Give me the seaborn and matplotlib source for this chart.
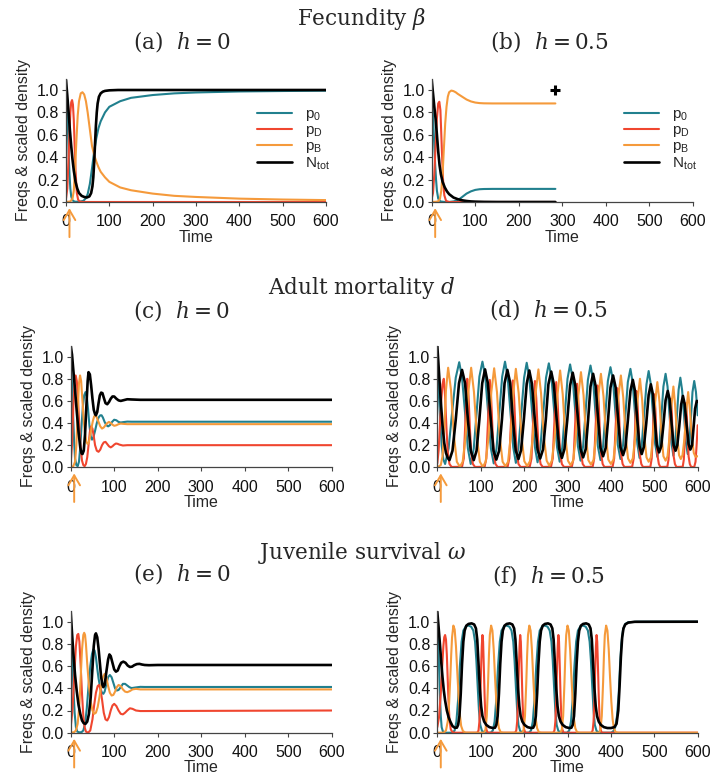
import matplotlib
matplotlib.use("Agg")
import matplotlib.pyplot as plt
import seaborn as sns

sns.set_theme(style="ticks")
plt.rcParams["font.family"] = ["Liberation Sans", "DejaVu Sans"]
plt.rcParams["mathtext.fontset"] = "dejavuserif"

TEAL = "#21808e"
RED = "#f0462f"
ORANGE = "#f59a3b"
BLACK = "#000000"
AXIS = "#444444"

# ---------------- (a) fecundity, h = 0 ----------------
a_p0_t = [0, 2, 4, 6, 8, 10, 12, 15, 20, 30, 40, 45, 50, 55, 60, 65, 70, 75, 80, 90, 100, 125, 150, 200, 250, 300, 400, 500, 600]
a_p0_v = [0.97, 0.88, 0.7, 0.45, 0.25, 0.12, 0.05, 0.015, 0.003, 0.002, 0.01, 0.03, 0.07, 0.16, 0.3, 0.45, 0.57, 0.66, 0.72, 0.8, 0.85, 0.9, 0.93, 0.955, 0.97, 0.978, 0.987, 0.991, 0.994]
a_pd_t = [0, 3, 6, 8, 10, 12, 14, 16, 18, 20, 22, 25, 28, 32, 40, 600]
a_pd_v = [0.03, 0.12, 0.4, 0.62, 0.8, 0.89, 0.91, 0.87, 0.73, 0.5, 0.28, 0.08, 0.02, 0.003, 0.0, 0.0]
a_pb_t = [0, 10, 15, 18, 21, 24, 27, 30, 34, 38, 42, 46, 50, 55, 60, 65, 70, 75, 80, 90, 100, 125, 150, 200, 250, 300, 400, 500, 600]
a_pb_v = [0.0, 0.005, 0.03, 0.1, 0.3, 0.55, 0.77, 0.9, 0.97, 0.98, 0.96, 0.9, 0.8, 0.65, 0.5, 0.42, 0.36, 0.31, 0.27, 0.22, 0.18, 0.13, 0.105, 0.075, 0.055, 0.045, 0.03, 0.022, 0.017]
a_n_t = [0, 3, 6, 9, 12, 15, 18, 22, 26, 30, 36, 42, 48, 54, 58, 61, 63, 65, 67, 69, 71, 73, 76, 80, 85, 90, 100, 120, 600]
a_n_v = [1.09, 0.95, 0.8, 0.64, 0.5, 0.38, 0.28, 0.18, 0.12, 0.08, 0.055, 0.045, 0.04, 0.05, 0.08, 0.14, 0.22, 0.35, 0.52, 0.68, 0.8, 0.88, 0.94, 0.97, 0.985, 0.992, 0.997, 1.0, 1.0]

# ---------------- (b) fecundity, h = 0.5 (extinct at t = 284) ----------------
b_p0_t = [0, 2, 4, 6, 8, 10, 12, 15, 20, 30, 40, 50, 55, 60, 65, 70, 75, 80, 90, 100, 110, 120, 140, 284]
b_p0_v = [0.97, 0.85, 0.68, 0.5, 0.33, 0.2, 0.1, 0.03, 0.005, 0.0, 0.0, 0.005, 0.01, 0.02, 0.03, 0.045, 0.06, 0.075, 0.095, 0.108, 0.114, 0.116, 0.117, 0.117]
b_pd_t = [0, 3, 6, 9, 12, 15, 17.5, 20, 23, 26, 29, 33, 40, 284]
b_pd_v = [0.03, 0.08, 0.25, 0.5, 0.75, 0.88, 0.895, 0.82, 0.5, 0.2, 0.06, 0.01, 0.0, 0.0]
b_pb_t = [0, 12, 16, 19, 22, 25, 28, 31, 34, 37, 40, 45, 50, 55, 60, 70, 80, 90, 100, 110, 120, 140, 284]
b_pb_v = [0.0, 0.003, 0.01, 0.03, 0.1, 0.25, 0.48, 0.7, 0.85, 0.94, 0.98, 0.995, 0.99, 0.98, 0.965, 0.94, 0.915, 0.898, 0.888, 0.883, 0.881, 0.88, 0.88]
b_n_t = [0, 3, 6, 9, 12, 15, 18, 21, 25, 30, 35, 40, 50, 60, 70, 80, 90, 100, 120, 150, 284]
b_n_v = [1.09, 0.97, 0.85, 0.74, 0.6, 0.45, 0.33, 0.25, 0.18, 0.13, 0.095, 0.07, 0.04, 0.025, 0.015, 0.009, 0.005, 0.003, 0.001, 0.0, 0.0]
b_end_t = [284]
b_end_v = [1.0]

# ---------------- (c) adult mortality, h = 0 ----------------
c_p0_t = [0, 3, 6, 8, 10, 13, 16, 19, 22, 25, 28, 31, 34, 37, 40, 43, 46, 49, 52, 56, 60, 64, 68, 71, 74, 78, 82, 86, 90, 95, 100, 105, 110, 115, 120, 130, 140, 160, 600]
c_p0_v = [0.97, 0.75, 0.42, 0.22, 0.08, 0.02, 0.01, 0.05, 0.18, 0.38, 0.55, 0.65, 0.68, 0.64, 0.52, 0.38, 0.28, 0.25, 0.27, 0.33, 0.4, 0.45, 0.47, 0.47, 0.45, 0.41, 0.38, 0.37, 0.38, 0.41, 0.43, 0.425, 0.41, 0.405, 0.408, 0.413, 0.412, 0.412, 0.412]
c_pd_t = [0, 3, 6, 9, 11.5, 14, 17, 20, 23, 26, 29, 32, 35, 38, 41, 44, 47, 50, 53, 56, 60, 64, 68, 72, 76, 80, 84, 88, 92, 96, 100, 104, 108, 112, 120, 130, 140, 600]
c_pd_v = [0.04, 0.2, 0.55, 0.78, 0.83, 0.78, 0.6, 0.36, 0.17, 0.06, 0.02, 0.01, 0.03, 0.09, 0.2, 0.32, 0.37, 0.35, 0.28, 0.2, 0.15, 0.14, 0.16, 0.2, 0.225, 0.23, 0.21, 0.19, 0.18, 0.19, 0.205, 0.215, 0.212, 0.205, 0.197, 0.2, 0.2, 0.2]
c_pb_t = [0, 6, 10, 13, 16, 19, 21.5, 24, 27, 30, 33, 36, 39, 42, 45, 48, 51, 54, 57, 60, 64, 68, 72, 76, 80, 84, 88, 92, 96, 100, 105, 110, 115, 120, 130, 140, 600]
c_pb_v = [0.0, 0.01, 0.05, 0.2, 0.5, 0.76, 0.83, 0.78, 0.6, 0.42, 0.3, 0.23, 0.21, 0.23, 0.29, 0.36, 0.42, 0.46, 0.47, 0.45, 0.41, 0.37, 0.35, 0.36, 0.38, 0.4, 0.41, 0.4, 0.385, 0.375, 0.38, 0.39, 0.395, 0.393, 0.39, 0.39, 0.39]
c_n_t = [0, 3, 6, 10, 14, 18, 22, 25, 27, 30, 33, 36, 39, 41, 44, 47, 50, 53, 56, 58, 61, 64, 67, 70, 73, 76, 80, 84, 88, 92, 96, 100, 105, 110, 115, 120, 130, 140, 160, 600]
c_n_v = [1.1, 1.02, 0.88, 0.7, 0.5, 0.32, 0.18, 0.125, 0.12, 0.15, 0.3, 0.55, 0.78, 0.86, 0.84, 0.74, 0.62, 0.52, 0.48, 0.47, 0.5, 0.58, 0.65, 0.675, 0.67, 0.63, 0.58, 0.57, 0.59, 0.62, 0.64, 0.64, 0.62, 0.605, 0.6, 0.605, 0.615, 0.613, 0.61, 0.61]

# ---------------- (d) adult mortality, h = 0.5 (sustained cycles) ----------------
d_p0_t = [0, 5, 10, 14, 18, 26, 34, 42.5, 50.5, 57, 64, 70.5, 77, 84, 90.5, 97, 104, 110.5, 117, 123.5, 130,
          136.5, 143, 149.5, 156, 162, 168.5, 175, 181, 187, 193.5, 200, 206, 212, 218.5, 225, 231,
          237.5, 244, 250.5, 257, 263, 269.5, 276, 282, 288, 294, 300, 306, 312, 318, 324, 330,
          336, 341.5, 347, 353, 359, 364.5, 370, 376, 382, 387.5, 393, 399, 405, 410.5, 416, 422,
          428, 433.5, 439, 445, 450, 455.5, 461, 466, 471, 476.5, 482, 487, 492, 497, 502, 507,
          512, 516.5, 521, 526, 530.5, 535, 539.5, 544, 548, 552, 556, 560, 564, 568.5, 573, 577,
          581, 584.5, 588, 592, 596, 600]
d_p0_v = [0.96, 0.55, 0.2, 0.07, 0.03, 0.17, 0.49, 0.81, 0.95, 0.81, 0.49, 0.17, 0.03, 0.17, 0.49, 0.82, 0.955, 0.82, 0.5, 0.17, 0.035,
          0.17, 0.5, 0.82, 0.955, 0.82, 0.5, 0.18, 0.04, 0.18, 0.49, 0.81, 0.945, 0.81, 0.5, 0.18, 0.045,
          0.18, 0.49, 0.81, 0.94, 0.81, 0.5, 0.18, 0.05, 0.18, 0.49, 0.8, 0.93, 0.8, 0.5, 0.19, 0.06,
          0.19, 0.49, 0.79, 0.92, 0.79, 0.49, 0.19, 0.065, 0.19, 0.49, 0.78, 0.905, 0.78, 0.49, 0.2, 0.075,
          0.2, 0.48, 0.77, 0.89, 0.77, 0.49, 0.21, 0.085, 0.2, 0.48, 0.75, 0.87, 0.75, 0.48, 0.21, 0.095,
          0.21, 0.47, 0.73, 0.845, 0.73, 0.48, 0.22, 0.105, 0.21, 0.46, 0.7, 0.81, 0.7, 0.47, 0.22, 0.12,
          0.22, 0.45, 0.68, 0.78, 0.68, 0.47]
d_pd_t = [0, 3, 6, 9, 12, 15, 18, 21, 24, 28, 33,
          57, 61, 64, 66.5, 69, 72, 75, 78, 82, 87,
          109, 113, 116, 118.5, 121, 124, 127, 130, 134, 139,
          162, 166, 169, 171.5, 174, 177, 180, 183, 187, 192,
          213, 217, 220, 222.5, 225, 228, 231, 234, 238, 243,
          262, 266, 269, 271.5, 274, 277, 280, 283, 287, 292,
          310, 314, 317, 319.5, 322, 325, 328, 331, 335, 340,
          358, 361.5, 364.5, 366.8, 369, 371.8, 374.5, 377.3, 381, 385,
          404, 407.5, 410.5, 412.8, 415, 417.8, 420.5, 423.3, 427, 431,
          449, 452.5, 455.3, 457.2, 459, 461.6, 464, 466.6, 470, 474,
          491, 494, 496.7, 498.4, 500, 502.4, 504.8, 507.2, 510.5, 514,
          530, 532.8, 535.2, 536.7, 538, 540.2, 542.4, 544.6, 547.5, 551,
          565.5, 568, 570.3, 571.7, 573, 575, 577, 579, 581.8, 585,
          592, 595, 597.5, 600]
d_pd_v = [0.035, 0.15, 0.38, 0.6, 0.75, 0.8, 0.64, 0.36, 0.14, 0.03, 0.003,
          0.005, 0.08, 0.35, 0.58, 0.8, 0.64, 0.36, 0.14, 0.03, 0.003,
          0.005, 0.08, 0.35, 0.57, 0.79, 0.63, 0.355, 0.135, 0.03, 0.003,
          0.005, 0.08, 0.35, 0.57, 0.785, 0.63, 0.35, 0.135, 0.03, 0.003,
          0.005, 0.08, 0.35, 0.565, 0.78, 0.625, 0.35, 0.13, 0.03, 0.003,
          0.005, 0.08, 0.34, 0.56, 0.77, 0.615, 0.345, 0.13, 0.03, 0.003,
          0.005, 0.08, 0.34, 0.55, 0.755, 0.6, 0.34, 0.13, 0.03, 0.003,
          0.005, 0.08, 0.33, 0.54, 0.74, 0.59, 0.33, 0.125, 0.03, 0.003,
          0.005, 0.08, 0.32, 0.52, 0.715, 0.57, 0.32, 0.12, 0.03, 0.003,
          0.005, 0.08, 0.31, 0.5, 0.69, 0.55, 0.31, 0.115, 0.03, 0.003,
          0.005, 0.08, 0.3, 0.48, 0.66, 0.53, 0.3, 0.11, 0.03, 0.003,
          0.005, 0.07, 0.28, 0.45, 0.62, 0.5, 0.28, 0.1, 0.03, 0.003,
          0.005, 0.07, 0.26, 0.42, 0.58, 0.46, 0.26, 0.1, 0.03, 0.003,
          0.003, 0.05, 0.2, 0.38]
d_pb_t = [0, 8, 12, 16, 20, 25, 31.5, 38.5, 45, 52, 58.5, 65, 71.5, 78, 84.5, 91.5, 98, 105,
          111.5, 118, 124.5, 131, 137.5, 144, 150.5, 157, 163, 169, 175, 181, 187.5, 194, 200.5, 207,
          213.5, 220, 226.5, 233, 239, 245.5, 252, 258, 264, 270.5, 277, 283, 289, 295, 301, 307,
          313, 319, 325, 331, 337, 342.5, 348, 354, 360, 365.5, 371, 377, 383, 388.5, 394, 400,
          406, 411.5, 417, 423, 428.5, 434, 439.5, 445, 450.5, 456, 461.5, 467, 472, 477, 482, 487,
          492, 497, 502, 507, 512, 516.5, 521, 526, 530.5, 535, 539.5, 544, 548, 552.5, 557, 561,
          565, 569.5, 574, 578, 582, 586.5, 591, 595, 600]
d_pb_v = [0.0, 0.02, 0.1, 0.35, 0.7, 0.9, 0.7, 0.28, 0.05, 0.005, 0.05, 0.27, 0.68, 0.9, 0.68, 0.27, 0.05, 0.005,
          0.05, 0.27, 0.68, 0.895, 0.68, 0.27, 0.05, 0.01, 0.05, 0.27, 0.67, 0.89, 0.67, 0.28, 0.055, 0.012,
          0.055, 0.27, 0.67, 0.885, 0.67, 0.28, 0.06, 0.015, 0.06, 0.27, 0.66, 0.875, 0.66, 0.28, 0.06, 0.02,
          0.06, 0.27, 0.65, 0.86, 0.65, 0.28, 0.065, 0.025, 0.065, 0.27, 0.64, 0.845, 0.64, 0.28, 0.07, 0.03,
          0.07, 0.27, 0.63, 0.83, 0.63, 0.28, 0.08, 0.04, 0.08, 0.27, 0.61, 0.8, 0.61, 0.28, 0.09, 0.05,
          0.09, 0.27, 0.59, 0.77, 0.59, 0.29, 0.1, 0.06, 0.1, 0.27, 0.56, 0.73, 0.56, 0.29, 0.11, 0.075,
          0.11, 0.26, 0.52, 0.68, 0.52, 0.28, 0.13, 0.095, 0.1]
d_n_t = [0, 4, 8, 12, 16, 20, 24, 28, 35, 42.5, 50, 57, 64, 70.5, 77, 84, 90.5, 97, 103.5, 110,
         116.5, 123, 129.5, 136, 142.5, 149, 155, 161.5, 168, 174, 180.5, 187, 193, 199.5, 206, 212,
         218, 224.5, 231, 237, 243.5, 250, 256, 262.5, 268.5, 275, 281, 287, 293, 299.5, 306, 312,
         318, 324, 330, 336, 342, 347.5, 353, 359, 365, 370.5, 376, 382, 388, 393.5, 399, 405,
         411, 416.5, 422, 428, 433.5, 439, 445, 450.5, 455.5, 461, 466, 471, 476, 481.5, 487, 492,
         497, 501.5, 506, 511, 516, 521, 526, 531, 535.5, 540, 544.5, 549, 553, 557.5, 562, 566,
         570, 574.5, 579, 583, 587, 590.5, 594, 598, 600]
d_n_v = [1.1, 0.85, 0.6, 0.38, 0.22, 0.13, 0.085, 0.065, 0.15, 0.43, 0.76, 0.88, 0.76, 0.43, 0.15, 0.065, 0.15, 0.435, 0.76, 0.885,
         0.76, 0.44, 0.15, 0.07, 0.15, 0.435, 0.76, 0.88, 0.76, 0.44, 0.155, 0.075, 0.155, 0.435, 0.755, 0.875,
         0.755, 0.44, 0.16, 0.08, 0.16, 0.43, 0.75, 0.865, 0.75, 0.435, 0.165, 0.085, 0.165, 0.43, 0.74, 0.855,
         0.74, 0.435, 0.165, 0.09, 0.165, 0.43, 0.73, 0.845, 0.73, 0.435, 0.175, 0.1, 0.175, 0.43, 0.72, 0.83,
         0.72, 0.44, 0.18, 0.11, 0.18, 0.42, 0.69, 0.79, 0.69, 0.42, 0.19, 0.12, 0.185, 0.4, 0.655, 0.75,
         0.655, 0.41, 0.2, 0.135, 0.19, 0.385, 0.605, 0.69, 0.61, 0.39, 0.2, 0.15, 0.2, 0.37, 0.57, 0.645,
         0.57, 0.38, 0.21, 0.16, 0.2, 0.36, 0.53, 0.6, 0.595]

# ---------------- (e) juvenile survival, h = 0 ----------------
e_p0_t = [0, 3, 6, 9, 12, 15, 20, 25, 29, 33, 37, 41, 45, 49, 52, 55, 58, 61, 64, 68, 72, 75, 78, 82, 86, 90, 94, 98, 102, 106, 110, 115, 120, 125, 130, 135, 140, 150, 160, 170, 600]
e_p0_v = [0.97, 0.75, 0.42, 0.18, 0.05, 0.01, 0.003, 0.005, 0.02, 0.08, 0.22, 0.42, 0.6, 0.71, 0.75, 0.74, 0.68, 0.58, 0.49, 0.4, 0.36, 0.35, 0.37, 0.44, 0.5, 0.52, 0.5, 0.45, 0.4, 0.38, 0.385, 0.41, 0.44, 0.44, 0.425, 0.41, 0.402, 0.408, 0.413, 0.412, 0.412]
e_pd_t = [0, 4, 8, 12, 15, 17.5, 20, 23, 26, 29, 32, 35, 40, 45, 50, 54, 58, 62, 65, 68, 72, 76, 80, 84, 88, 92, 96, 100, 105, 110, 115, 120, 125, 130, 136, 142, 150, 160, 600]
e_pd_v = [0.05, 0.2, 0.5, 0.78, 0.88, 0.89, 0.82, 0.6, 0.35, 0.15, 0.05, 0.01, 0.0, 0.02, 0.12, 0.25, 0.36, 0.42, 0.43, 0.4, 0.3, 0.18, 0.12, 0.11, 0.14, 0.2, 0.245, 0.26, 0.24, 0.2, 0.17, 0.165, 0.18, 0.2, 0.22, 0.215, 0.2, 0.195, 0.2]
e_pb_t = [0, 8, 12, 16, 20, 23, 26, 29, 31, 33, 35, 38, 42, 46, 50, 54, 58, 62, 66, 70, 74, 78, 82, 86, 90, 94, 98, 102, 106, 110, 115, 120, 125, 130, 136, 142, 150, 160, 600]
e_pb_v = [0.0, 0.005, 0.02, 0.08, 0.25, 0.5, 0.75, 0.88, 0.9, 0.88, 0.8, 0.62, 0.42, 0.28, 0.2, 0.17, 0.18, 0.23, 0.32, 0.42, 0.5, 0.53, 0.5, 0.42, 0.36, 0.335, 0.34, 0.37, 0.41, 0.43, 0.42, 0.39, 0.37, 0.365, 0.375, 0.39, 0.395, 0.39, 0.39]
e_n_t = [0, 3, 6, 10, 14, 18, 22, 26, 30, 34, 38, 42, 46, 50, 53, 56, 58, 61, 64, 67, 70, 73, 75, 78, 82, 86, 89, 92, 96, 100, 104, 108, 112, 116, 121, 126, 131, 136, 141, 146, 152, 158, 164, 170, 180, 200, 600]
e_n_v = [1.09, 0.9, 0.72, 0.52, 0.37, 0.25, 0.17, 0.11, 0.085, 0.08, 0.1, 0.17, 0.32, 0.58, 0.78, 0.88, 0.895, 0.86, 0.76, 0.63, 0.5, 0.43, 0.41, 0.43, 0.55, 0.66, 0.705, 0.69, 0.63, 0.57, 0.55, 0.56, 0.6, 0.63, 0.64, 0.63, 0.605, 0.592, 0.595, 0.608, 0.618, 0.62, 0.614, 0.61, 0.608, 0.61, 0.61]

# ---------------- (f) juvenile survival, h = 0.5 ----------------
f_p0_t = [0, 2, 4, 6, 8, 10, 13, 20, 35, 40, 44, 48, 52, 56, 60, 66, 72, 78, 83, 87, 90, 93, 96, 99, 103, 110,
          123, 128, 132, 136, 140, 144, 148, 154, 160, 166, 171, 175, 178, 181, 184, 187, 191, 198,
          211, 216, 220, 224, 228, 232, 236, 242, 248, 254, 259, 263, 266, 269, 272, 275, 279, 286,
          299, 304, 308, 312, 316, 320, 324, 330, 336, 342, 347, 351, 354, 357, 360, 363, 367, 374,
          400, 405, 410, 414, 418, 421, 424, 428, 433, 440, 460, 600]
f_p0_v = [0.97, 0.85, 0.6, 0.35, 0.15, 0.05, 0.01, 0.0, 0.0, 0.02, 0.1, 0.3, 0.6, 0.82, 0.92, 0.96, 0.965, 0.955, 0.92, 0.82, 0.65, 0.42, 0.2, 0.07, 0.015, 0.0,
          0.0, 0.02, 0.1, 0.3, 0.6, 0.82, 0.92, 0.96, 0.965, 0.955, 0.92, 0.82, 0.65, 0.42, 0.2, 0.07, 0.015, 0.0,
          0.0, 0.02, 0.1, 0.3, 0.6, 0.82, 0.92, 0.96, 0.965, 0.955, 0.92, 0.82, 0.65, 0.42, 0.2, 0.07, 0.015, 0.0,
          0.0, 0.02, 0.1, 0.3, 0.6, 0.82, 0.92, 0.96, 0.965, 0.955, 0.92, 0.82, 0.65, 0.42, 0.2, 0.07, 0.015, 0.0,
          0.0, 0.01, 0.05, 0.15, 0.35, 0.6, 0.8, 0.93, 0.98, 0.995, 1.0, 1.0]
f_pd_t = [0, 4, 8, 11, 14, 16, 18, 20, 22, 24, 26, 28, 31, 35, 40,
          92, 95, 97, 99, 101, 102.5, 104, 105.5, 107, 109, 111, 113, 116,
          179, 182, 184, 186, 188, 189.5, 191, 192.5, 194, 196, 198, 200, 203,
          267, 270, 272, 274, 276, 277.5, 279, 280.5, 282, 284, 286, 288, 291,
          355, 358, 360, 362, 364, 365.5, 367, 368.5, 370, 372, 374, 376, 379, 600]
f_pd_v = [0.05, 0.14, 0.35, 0.58, 0.78, 0.86, 0.88, 0.84, 0.7, 0.48, 0.27, 0.12, 0.03, 0.005, 0.0,
          0.0, 0.02, 0.1, 0.3, 0.6, 0.78, 0.88, 0.82, 0.62, 0.33, 0.12, 0.03, 0.0,
          0.0, 0.02, 0.1, 0.3, 0.6, 0.78, 0.88, 0.82, 0.62, 0.33, 0.12, 0.03, 0.0,
          0.0, 0.02, 0.1, 0.3, 0.6, 0.78, 0.88, 0.82, 0.62, 0.33, 0.12, 0.03, 0.0,
          0.0, 0.02, 0.1, 0.3, 0.6, 0.78, 0.88, 0.82, 0.62, 0.33, 0.12, 0.03, 0.0, 0.0]
f_pb_t = [0, 15, 20, 24, 27, 30, 32, 34, 37, 40, 43, 46, 49, 52, 55, 59, 65,
          108, 111, 114, 117, 119, 121, 124, 127, 130, 133, 136, 139, 142, 146, 152,
          196, 199, 202, 205, 207, 209, 212, 215, 218, 221, 224, 227, 230, 234, 240,
          284, 287, 290, 293, 295, 297, 300, 303, 306, 309, 312, 315, 318, 322, 328,
          373, 376, 379, 382, 384, 386, 389, 392, 395, 398, 401, 404, 407, 411, 417, 600]
f_pb_v = [0.0, 0.0, 0.02, 0.1, 0.25, 0.5, 0.7, 0.86, 0.965, 0.93, 0.78, 0.55, 0.33, 0.16, 0.06, 0.015, 0.0,
          0.0, 0.03, 0.15, 0.45, 0.7, 0.88, 0.965, 0.92, 0.75, 0.5, 0.28, 0.12, 0.04, 0.005, 0.0,
          0.0, 0.03, 0.15, 0.45, 0.7, 0.88, 0.965, 0.92, 0.75, 0.5, 0.28, 0.12, 0.04, 0.005, 0.0,
          0.0, 0.03, 0.15, 0.45, 0.7, 0.88, 0.965, 0.92, 0.75, 0.5, 0.28, 0.12, 0.04, 0.005, 0.0,
          0.0, 0.03, 0.15, 0.45, 0.7, 0.88, 0.965, 0.92, 0.75, 0.5, 0.28, 0.12, 0.04, 0.005, 0.0, 0.0]
f_n_t = [0, 3, 6, 9, 12, 15, 18, 22, 26, 30, 35, 40, 45, 48, 51, 54, 57, 60, 63, 67, 72, 79, 85, 89, 92, 95, 98, 101, 104, 108, 113, 120, 128, 133,
         136, 139, 142, 145, 148, 151, 155, 160, 167, 173, 177, 180, 183, 186, 189, 192, 196, 201, 208, 216, 221,
         224, 227, 230, 233, 236, 239, 243, 248, 255, 261, 265, 268, 271, 274, 277, 280, 284, 289, 296, 304, 309,
         312, 315, 318, 321, 324, 327, 331, 336, 343, 349, 353, 356, 359, 362, 365, 368, 372, 377, 384, 392, 400, 408,
         413, 417, 420, 423, 426, 429, 433, 440, 455, 600]
f_n_v = [1.09, 0.95, 0.8, 0.64, 0.5, 0.38, 0.29, 0.2, 0.14, 0.1, 0.06, 0.045, 0.045, 0.07, 0.15, 0.35, 0.62, 0.82, 0.92, 0.965, 0.98, 0.985, 0.975, 0.94, 0.84, 0.62, 0.4, 0.24, 0.15, 0.1, 0.07, 0.05, 0.042, 0.045,
         0.07, 0.15, 0.35, 0.62, 0.82, 0.92, 0.965, 0.98, 0.985, 0.975, 0.94, 0.84, 0.62, 0.4, 0.24, 0.15, 0.1, 0.07, 0.05, 0.042, 0.045,
         0.07, 0.15, 0.35, 0.62, 0.82, 0.92, 0.965, 0.98, 0.985, 0.975, 0.94, 0.84, 0.62, 0.4, 0.24, 0.15, 0.1, 0.07, 0.05, 0.042, 0.045,
         0.07, 0.15, 0.35, 0.62, 0.82, 0.92, 0.965, 0.98, 0.985, 0.975, 0.94, 0.84, 0.62, 0.4, 0.24, 0.15, 0.1, 0.07, 0.05, 0.042, 0.042, 0.05,
         0.08, 0.2, 0.42, 0.68, 0.86, 0.94, 0.975, 0.992, 0.999, 1.0]

X_TICKS = [0, 100, 200, 300, 400, 500, 600]
Y_TICKS = [0.0, 0.2, 0.4, 0.6, 0.8, 1.0]
LEGEND_LABELS = [r"$\mathregular{p_0}$", r"$\mathregular{p_D}$", r"$\mathregular{p_B}$", r"$\mathregular{N_{tot}}$"]
SECTION_TITLES = [r"Fecundity $\beta$", r"Adult mortality $d$", r"Juvenile survival $\omega$"]
PANEL_TITLES = [r"(a)  $h = 0$", r"(b)  $h = 0.5$", r"(c)  $h = 0$", r"(d)  $h = 0.5$", r"(e)  $h = 0$", r"(f)  $h = 0.5$"]
INTRO_TIME = 8

W, H = 712, 778
fig = plt.figure(figsize=(W / 100, H / 100), dpi=100)


def px_axes(x0, x1, ybottom, ytop):
    return fig.add_axes([x0 / W, 1 - ybottom / H, (x1 - x0) / W, (ybottom - ytop) / H])


axes = [
    px_axes(66, 326, 202, 78.8),
    px_axes(431.7, 693, 202, 78.8),
    px_axes(70.7, 331.7, 467.3, 345.6),
    px_axes(437.3, 697.7, 467.3, 345.6),
    px_axes(70.7, 331.7, 732.7, 610.6),
    px_axes(437.3, 697.7, 732.7, 610.6),
]

panels = [
    [(a_p0_t, a_p0_v), (a_pd_t, a_pd_v), (a_pb_t, a_pb_v), (a_n_t, a_n_v)],
    [(b_p0_t, b_p0_v), (b_pd_t, b_pd_v), (b_pb_t, b_pb_v), (b_n_t, b_n_v)],
    [(c_p0_t, c_p0_v), (c_pd_t, c_pd_v), (c_pb_t, c_pb_v), (c_n_t, c_n_v)],
    [(d_p0_t, d_p0_v), (d_pd_t, d_pd_v), (d_pb_t, d_pb_v), (d_n_t, d_n_v)],
    [(e_p0_t, e_p0_v), (e_pd_t, e_pd_v), (e_pb_t, e_pb_v), (e_n_t, e_n_v)],
    [(f_p0_t, f_p0_v), (f_pd_t, f_pd_v), (f_pb_t, f_pb_v), (f_n_t, f_n_v)],
]
colors = [TEAL, RED, ORANGE, BLACK]
widths = [1.5, 1.5, 1.5, 1.9]

for i, ax in enumerate(axes):
    for (t, v), c, lw, lab in zip(panels[i], colors, widths, LEGEND_LABELS):
        sns.lineplot(x=t, y=v, ax=ax, color=c, lw=lw, estimator=None, sort=False, label=lab, legend=False)
    ax.set_xlim(0, 600)
    ax.set_ylim(0, 1.1)
    ax.set_xticks(X_TICKS)
    ax.set_yticks(Y_TICKS)
    ax.set_yticklabels([f"{y:.1f}" for y in Y_TICKS])
    for side in ("top", "right"):
        ax.spines[side].set_visible(False)
    for side in ("left", "bottom"):
        ax.spines[side].set_color(AXIS)
        ax.spines[side].set_linewidth(0.9)
    ax.tick_params(axis="both", direction="out", length=3, width=0.8, color=AXIS, labelsize=11.5, labelcolor="#111111")
    ax.tick_params(axis="x", pad=6)
    ax.tick_params(axis="y", pad=2)
    ax.set_xlabel("Time", fontsize=11.5, labelpad=0)
    ax.set_ylabel("Freqs & scaled density", fontsize=11.5, labelpad=4)
    ax.annotate("", xy=(INTRO_TIME, -0.05), xycoords=ax.get_xaxis_transform(),
                xytext=(INTRO_TIME, -0.285), textcoords=ax.get_xaxis_transform(),
                arrowprops=dict(arrowstyle="->,head_length=0.6,head_width=0.35", color=ORANGE, lw=1.4,
                                shrinkA=0, shrinkB=0),
                annotation_clip=False)

# extinction marker in (b)
sns.scatterplot(x=b_end_t, y=b_end_v, ax=axes[1], marker="+", s=50, color=BLACK, linewidth=2.2, legend=False, zorder=5)

for ax in axes[:2]:
    handles = ax.get_lines()[:4]
    ax.legend(handles, LEGEND_LABELS, loc="upper left", bbox_to_anchor=(0.735, 0.77), frameon=False,
              fontsize=11, handlelength=2.3, handletextpad=0.85, labelspacing=0.0, borderpad=0, borderaxespad=0)

serif = "DejaVu Serif"
for (x, y), s in zip([(361.5, 19), (361, 288), (362.5, 553)], SECTION_TITLES):
    fig.text(x / W, 1 - y / H, s, ha="center", va="center", fontsize=15.5, family=serif)
for (x, y), s in zip([(181.7, 42), (549, 42), (181.5, 310), (548, 309), (181.5, 574), (548.5, 575)], PANEL_TITLES):
    fig.text(x / W, 1 - y / H, s, ha="center", va="center", fontsize=15.5, family=serif)

fig.savefig("out.png", dpi=100)
